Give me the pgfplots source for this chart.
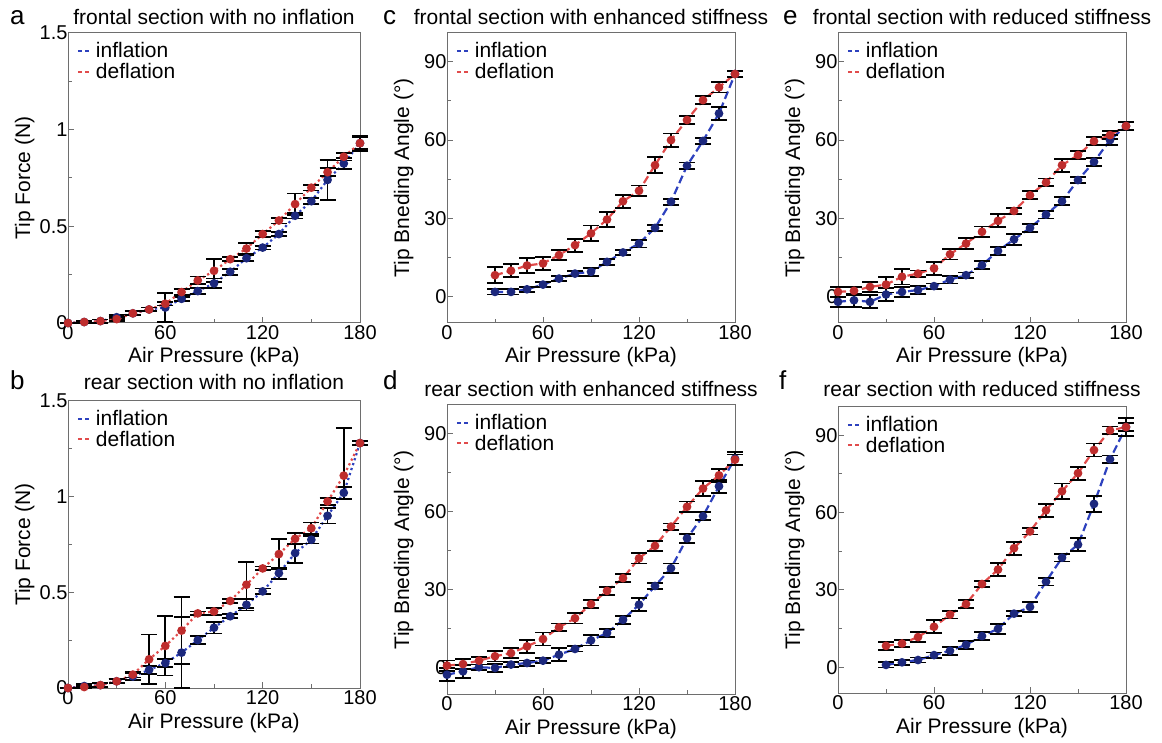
\documentclass[border=0pt]{standalone}
\usepackage{fontspec}
\setmainfont{Liberation Sans}
\usepackage{pgfplots}
\pgfplotsset{compat=1.18}

\definecolor{lblue}{RGB}{45,65,190}
\definecolor{lred}{RGB}{225,75,75}
\definecolor{mblue}{RGB}{28,40,125}
\definecolor{mred}{RGB}{190,45,45}
\definecolor{framec}{RGB}{110,110,110}

\pgfplotsset{
  panel/.style={
    scale only axis, clip=false,
    xmin=0, xmax=180, xtick={0,60,120,180}, minor xtick={30,90,150},
    tick pos=left, tick align=inside,
    major tick length=6pt, minor tick length=4pt,
    axis line style={framec, line width=1pt},
    tick style={framec, line width=1pt},
    /pgf/number format/assume math mode=true,
    tick label style={font=\fontsize{20}{20}\selectfont},
    xticklabel style={yshift=1pt},
    yticklabel style={xshift=3pt},
    xlabel={Air Pressure (kPa)},
    every axis x label/.style={at={([yshift=-40pt]axis description cs:0.5,0)}, anchor=base, font=\fontsize{21}{21}\selectfont},
    every axis y label/.style={at={([xshift=-38pt]axis description cs:0,0.5)}, anchor=base, rotate=90, font=\fontsize{21}{21}\selectfont},
    every axis title shift=0pt,
    title style={font=\fontsize{21}{21}\selectfont, at={(axis description cs:0.5,1)}, anchor=base, yshift=8pt},
    legend style={at={(axis description cs:0.03,0.975)}, anchor=north west, draw=none, fill=none,
      font=\fontsize{21}{21}\selectfont, row sep=0pt, column sep=3pt, inner sep=0pt},
    legend cell align=left,
    legend image code/.code={\draw[##1, line width=2pt, dash pattern=on 4pt off 3.5pt] (0pt,0pt) -- (12pt,0pt);},
  },
  ebar/.style={
    error bars/y dir=both, error bars/y explicit,
    error bars/error bar style={black, solid, line width=1.8pt},
    error bars/error mark options={black, solid, line width=1.8pt, mark size=8pt, rotate=90},
  },
  infl/.style={lblue, line width=2.2pt, mark=*, mark size=3.2pt, mark options={solid, fill=mblue, draw=mblue}, ebar},
  defl/.style={lred, line width=2.2pt, mark=*, mark size=3.2pt, mark options={solid, fill=mred, draw=mred}, ebar},
  dot/.style={dash pattern=on 2.2pt off 3pt},
  dsh/.style={dash pattern=on 8pt off 4pt},
  force/.style={ymin=0, ymax=1.5, ytick={0,0.5,1,1.5}, minor ytick={0.25,0.75,1.25}, ylabel={Tip Force (N)}},
  angle/.style={ymin=-10, ymax=101, ytick={0,30,60,90}, minor ytick={15,45,75}, ylabel={Tip Bneding Angle (°)}},
}

\begin{document}
\begin{tikzpicture}
\path[use as bounding box] (0pt,0pt) rectangle (1162pt,742pt);

% ---------- a ----------
\begin{axis}[panel, force, at={(68pt,419pt)}, width=292pt, height=290pt,
  title={frontal section with no inflation}]
\addplot[infl, dot] table[x=x,y=y,y error=e]{
x y e
0 0 0
10 0.005 0.005
20 0.01 0.008
30 0.03 0.01
40 0.05 0.01
50 0.07 0.01
60 0.08 0.075
70 0.125 0.01
80 0.165 0.015
90 0.205 0.025
100 0.265 0.015
110 0.335 0.015
120 0.39 0.01
130 0.46 0.01
140 0.555 0.015
150 0.63 0.015
160 0.74 0.105
170 0.825 0.03
180 0.93 0.03
};
\addlegendentry{inflation}
\addplot[defl, dot] table[x=x,y=y,y error=e]{
x y e
0 0 0
10 0.005 0.005
20 0.01 0.008
30 0.02 0.01
40 0.05 0.01
50 0.07 0.01
60 0.10 0.01
70 0.16 0.015
80 0.22 0.02
90 0.27 0.06
100 0.33 0.01
110 0.385 0.03
120 0.46 0.015
130 0.53 0.015
140 0.615 0.055
150 0.70 0.015
160 0.78 0.02
170 0.86 0.02
180 0.93 0.04
};
\addlegendentry{deflation}
\end{axis}

% ---------- c ----------
\begin{axis}[panel, angle, at={(447pt,419pt)}, width=288pt, height=290pt,
  title={frontal section with enhanced stiffness}]
\addplot[infl, dsh] table[x=x,y=y,y error=e]{
x y e
30 1.9 1
40 1.9 1
50 2.9 1
60 4.7 1
70 7 1
80 8.9 1
90 9.6 1.5
100 13.4 1.2
110 17 1
120 20.4 1.5
130 26.4 1.2
140 36.4 1.2
150 50.2 1.2
160 59.7 1.2
170 70.2 2.5
180 85.3 1.2
};
\addlegendentry{inflation}
\addplot[defl, dsh] table[x=x,y=y,y error=e]{
x y e
30 8.3 3
40 10 2.5
50 12 3
60 12.8 2.5
70 16 2
80 19.8 2.5
90 24.3 3
100 29.6 3
110 36.6 2.5
120 40.6 2
130 50.4 3
140 60 2.5
150 67.7 1.5
160 75.3 1.5
170 80.2 2
180 85.3 1.2
};
\addlegendentry{deflation}
\end{axis}

% ---------- e ----------
\begin{axis}[panel, angle, at={(838pt,419pt)}, width=288pt, height=290pt,
  title={frontal section with reduced stiffness}]
\addplot[infl, dsh] table[x=x,y=y,y error=e]{
x y e
0 -1.9 2
10 -1.3 2.5
20 -1.9 2.5
30 0.9 2.5
40 1.9 2
50 2.6 1.5
60 4.1 1
70 6.6 1.5
80 8.3 1
90 12.1 1.5
100 17.6 1.5
110 22 2
120 26.4 1.5
130 31.5 1.5
140 36.6 1.5
150 44.7 1.2
160 51.7 1.5
170 60 2
180 65.4 1.5
};
\addlegendentry{inflation}
\addplot[defl, dsh] table[x=x,y=y,y error=e]{
x y e
0 1.9 2
10 2.3 1.5
20 3.8 2
30 4.7 3
40 7.7 3
50 8.9 1.2
60 10.9 2.5
70 16.3 2
80 20.4 2
90 24.9 2
100 29.1 2.5
110 32.9 1.2
120 38.9 1.5
130 43.8 1.5
140 50.4 2.5
150 54.3 1.5
160 59.6 1.5
170 61.9 1.5
180 65.4 1.5
};
\addlegendentry{deflation}
\end{axis}

% ---------- b ----------
\begin{axis}[panel, force, at={(68pt,54pt)}, width=292pt, height=287pt,
  title={rear section with no inflation}, title style={yshift=3pt}]
\addplot[infl, dot] table[x=x,y=y,y error=e]{
x y e
0 0 0
10 0.01 0.01
20 0.015 0.01
30 0.035 0.01
40 0.06 0.02
50 0.095 0.02
60 0.13 0.02
70 0.185 0.185
80 0.25 0.02
90 0.315 0.03
100 0.375 0.01
110 0.435 0.03
120 0.505 0.015
130 0.60 0.03
140 0.705 0.05
150 0.775 0.02
160 0.90 0.04
170 1.02 0.03
180 1.28 0.01
};
\addlegendentry{inflation}
\addplot[defl, dot] table[x=x,y=y,y error plus=ep,y error minus=em]{
x y ep em
0 0 0 0
10 0.005 0.005 0.005
20 0.015 0.01 0.01
30 0.035 0.01 0.01
40 0.07 0.015 0.015
50 0.15 0.13 0.13
60 0.22 0.155 0.155
70 0.30 0.175 0.175
80 0.39 0.01 0.01
90 0.40 0.02 0.02
100 0.455 0.01 0.01
110 0.54 0.12 0.12
120 0.625 0.01 0.01
130 0.70 0.08 0.08
140 0.78 0.03 0.03
150 0.835 0.03 0.03
160 0.975 0.02 0.02
170 1.11 0.25 0.125
180 1.28 0.01 0.01
};
\addlegendentry{deflation}
\end{axis}

% ---------- d ----------
\begin{axis}[panel, angle, at={(447pt,48pt)}, width=288pt, height=289pt,
  title={rear section with enhanced stiffness}]
\addplot[infl, dsh] table[x=x,y=y,y error=e]{
x y e
0 -2.6 2.5
10 -1.3 2.5
20 0.3 1
30 0 1.5
40 1.3 1
50 1.9 1
60 2.8 1
70 5.1 2.5
80 7.3 1
90 10.6 2
100 13.4 1.5
110 18.5 1.5
120 24.3 2.5
130 31.5 1.2
140 38.3 1.8
150 49.8 1.8
160 58.3 1.5
170 69.8 2.5
180 80.4 2.5
};
\addlegendentry{inflation}
\addplot[defl, dsh] table[x=x,y=y,y error=e]{
x y e
0 0.9 2
10 1.5 2
20 2.8 1.5
30 4.5 2
40 5.7 2
50 8.3 2.5
60 11.1 2.5
70 15.6 1.5
80 19.1 2
90 24.5 1.5
100 29.6 1.5
110 34.5 1.5
120 42.1 2
130 46.9 2
140 54.3 1.2
150 61.9 2
160 68.9 3
170 74 2.5
180 80 2
};
\addlegendentry{deflation}
\end{axis}

% ---------- f ----------
\begin{axis}[panel, angle, at={(838pt,49pt)}, width=288pt, height=286pt,
  title={rear section with reduced stiffness}, title style={yshift=2pt}]
\addplot[infl, dsh] table[x=x,y=y,y error=e]{
x y e
30 0.9 1
40 1.9 1
50 2.8 1
60 4.7 1
70 6.4 1.5
80 8.7 1.5
90 12.1 1.5
100 14.9 2
110 20.8 1
120 23.4 2
130 33.2 1.5
140 42.5 1.5
150 47.6 2.5
160 63.4 3
170 80.7 1.5
180 93.2 3.5
};
\addlegendentry{inflation}
\addplot[defl, dsh] table[x=x,y=y,y error=e]{
x y e
30 8.3 1.5
40 9.2 1.5
50 11.7 2
60 15.7 2.5
70 20.4 1.5
80 24.5 1.5
90 32.3 1.2
100 37.9 2.5
110 46.2 2.5
120 52.7 1.2
130 60.9 2.5
140 68.3 3
150 75.3 2.5
160 84.3 2.5
170 91.9 1.5
180 93.2 1.5
};
\addlegendentry{deflation}
\end{axis}

% panel letters
\begin{scope}[every node/.style={anchor=base west, inner sep=0pt, font=\fontsize{26}{26}\selectfont}]
\node at (10pt,717pt) {a};
\node at (383pt,717pt) {c};
\node at (783pt,717pt) {e};
\node at (10pt,352pt) {b};
\node at (383pt,352pt) {d};
\node at (779pt,352pt) {f};
\end{scope}
\end{tikzpicture}
\end{document}
